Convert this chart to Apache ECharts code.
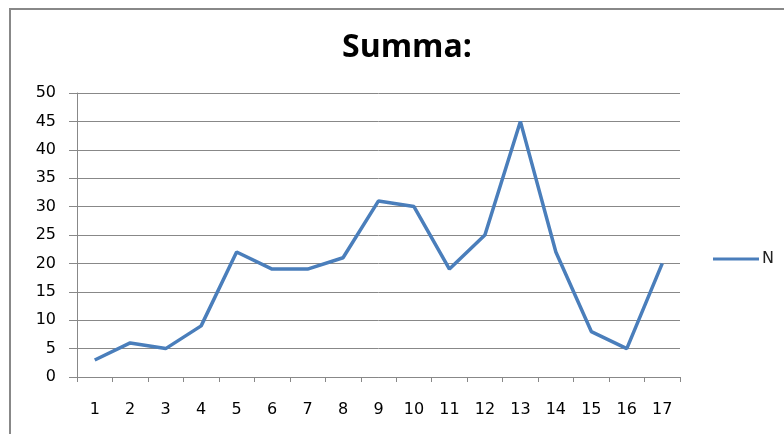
<!DOCTYPE html>
<html><head><meta charset="utf-8">
<script src="https://cdn.jsdelivr.net/npm/echarts@6/dist/echarts.min.js"></script>
<style>html,body{margin:0;padding:0;background:#fff}#c{width:784px;height:434px}</style>
</head><body><div id="c"></div>
<script>
const categories = ['1','2','3','4','5','6','7','8','9','10','11','12','13','14','15','16','17'];
const seriesN = [3,6,5,9,22,19,19,21,31,30,19,25,45,22,8,5,20];
const titleText = 'Summa:';
const seriesName = 'N';

const chart = echarts.init(document.getElementById('c'));
chart.setOption({
  animation: false,
  backgroundColor: '#fff',
  graphic: [{
    type: 'polyline',
    shape: { points: [[10, 434], [10, 9], [784, 9]] },
    style: { stroke: '#888', lineWidth: 2, fill: null }
  }],
  title: {
    text: titleText, left: 402, top: 27, textAlign: 'center',
    textStyle: { fontFamily: 'Open Sans', fontWeight: 'bold', fontSize: 32, color: '#000' }
  },
  legend: {
    data: [seriesName], left: 708, top: 246, itemWidth: 46, itemHeight: 3, itemGap: 2,
    icon: 'rect',
    textStyle: { fontFamily: 'DejaVu Sans', fontSize: 16, color: '#222', padding: [0,0,0,-2] }
  },
  grid: { left: 77, right: 104, top: 93, bottom: 57, containLabel: false },
  xAxis: {
    type: 'category', data: categories, boundaryGap: true,
    axisLine: { lineStyle: { color: '#888', width: 1 } },
    axisTick: { show: true, length: 5, lineStyle: { color: '#888' }, interval: 0 },
    axisLabel: { fontFamily: 'DejaVu Sans', fontSize: 16, color: '#000', margin: 25, interval: 0 }
  },
  yAxis: {
    type: 'value', min: 0, max: 50, interval: 5,
    axisLine: { show: true, lineStyle: { color: '#888', width: 1 } },
    axisTick: { show: true, length: 8, lineStyle: { color: '#888' } },
    splitLine: { lineStyle: { color: '#888', width: 1 } },
    axisLabel: { fontFamily: 'DejaVu Sans', fontSize: 16, color: '#000', margin: 21 }
  },
  series: [{
    name: seriesName, type: 'line', data: seriesN, symbol: 'none',
    lineStyle: { color: '#4a7ebb', width: 3.5 }, itemStyle: { color: '#4a7ebb' }
  }]
});
</script></body></html>
